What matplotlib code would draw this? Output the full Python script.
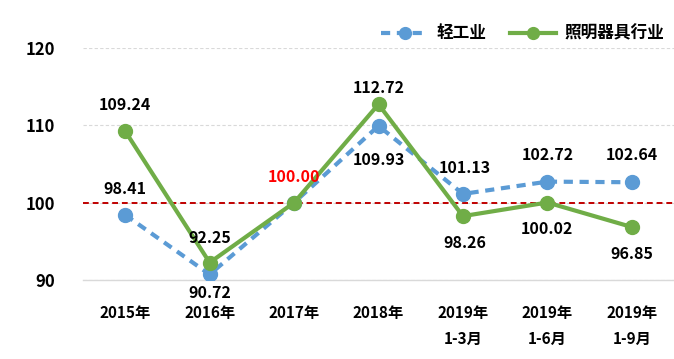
import matplotlib
matplotlib.use("Agg")
import matplotlib.pyplot as plt

plt.rcParams['font.family'] = ['Noto Sans CJK SC', 'DejaVu Sans']

categories = ["2015年", "2016年", "2017年", "2018年", "2019年\n1-3月", "2019年\n1-6月", "2019年\n1-9月"]
light_industry = [98.41, 90.72, 100.00, 109.93, 101.13, 102.72, 102.64]
lighting = [109.24, 92.25, 100.00, 112.72, 98.26, 100.02, 96.85]
yticks = [90, 100, 110, 120]

# label offsets (pixels) for data labels
li_offsets = [(0, 26), (0, -19), (0, 26), (0, -34), (2, 26), (0, 27), (0, 27)]
lt_offsets = [(0, 26), (0, 25), None, (0, 16), (2, -27), (0, -26), (0, -27)]

fig = plt.figure(figsize=(6.74, 3.59), dpi=100)
ax = fig.add_axes([83/674, 1-280/359, 1-83/674, (280-48)/359])

x = list(range(len(categories)))
blue = "#5B9BD5"
green = "#70AD47"

ax.axhline(100, color="#C00000", lw=1.4, ls=(0, (3, 2)), zorder=1)
ax.plot(x, light_industry, color=blue, lw=3, ls=(0, (2.2, 1.6)), marker='o', ms=10,
        label="轻工业", zorder=3)
ax.plot(x, lighting, color=green, lw=3, marker='o', ms=10, label="照明器具行业", zorder=4)

for i, (v, off) in enumerate(zip(light_industry, li_offsets)):
    col = "#FF0000" if i == 2 else "black"
    ax.annotate(f"{v:.2f}", (i, v), xytext=off, textcoords='offset pixels',
                ha='center', va='center', fontsize=11.5, fontweight='bold', color=col, zorder=5)
for i, (v, off) in enumerate(zip(lighting, lt_offsets)):
    if off is None:
        continue
    ax.annotate(f"{v:.2f}", (i, v), xytext=off, textcoords='offset pixels',
                ha='center', va='center', fontsize=11.5, fontweight='bold', color="black", zorder=5)

ax.set_xlim(-0.5, len(categories) - 0.5)
ax.set_ylim(90, 120)
ax.set_yticks(yticks)
ax.set_yticklabels([str(t) for t in yticks], fontsize=12, fontweight='bold')
ax.set_xticks(x)
ax.set_xticklabels(categories, fontsize=11, fontweight='bold', linespacing=1.75, va='top')
ax.tick_params(axis='both', length=0)
ax.tick_params(axis='y', pad=20)
ax.tick_params(axis='x', pad=18)

for s in ['top', 'right', 'left']:
    ax.spines[s].set_visible(False)
ax.spines['bottom'].set_color("#D9D9D9")
ax.spines['bottom'].set_linewidth(1)
ax.yaxis.grid(True, color="#D9D9D9", ls=(0, (3, 2)), lw=0.8)
ax.set_axisbelow(True)

leg = ax.legend(loc='lower right', bbox_to_anchor=(0.995, 0.995), ncol=2, frameon=False,
                prop={'size': 12, 'weight': 'bold'}, handlelength=2.8, columnspacing=1.4,
                handletextpad=0.5, borderaxespad=0, markerscale=0.85)

fig.savefig("out.png", dpi=100)
